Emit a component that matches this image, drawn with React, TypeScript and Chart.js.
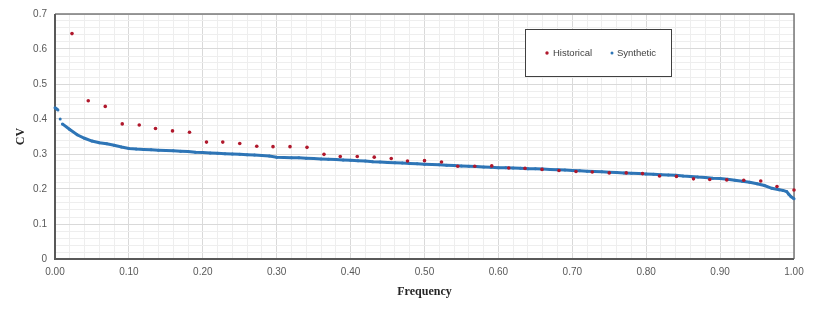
import React, { useEffect, useRef } from "react";
import { Chart, registerables } from "chart.js";

Chart.register(...registerables);

// Historical plotting positions (frequency) and CV values
const histFreq = [
  0.023, 0.045, 0.068, 0.091, 0.114, 0.136, 0.159, 0.182, 0.205, 0.227, 0.25,
  0.273, 0.295, 0.318, 0.341, 0.364, 0.386, 0.409, 0.432, 0.455, 0.477, 0.5,
  0.523, 0.545, 0.568, 0.591, 0.614, 0.636, 0.659, 0.682, 0.705, 0.727, 0.75,
  0.773, 0.795, 0.818, 0.841, 0.864, 0.886, 0.909, 0.932, 0.955, 0.977, 1.0,
];
const histCV = [
  0.644, 0.452, 0.436, 0.386, 0.383, 0.373, 0.366, 0.362, 0.334, 0.334, 0.33,
  0.322, 0.321, 0.321, 0.319, 0.299, 0.293, 0.293, 0.291, 0.287, 0.28, 0.281,
  0.277, 0.265, 0.265, 0.266, 0.26, 0.259, 0.256, 0.253, 0.25, 0.2485, 0.246,
  0.246, 0.244, 0.237, 0.236, 0.229, 0.227, 0.226, 0.225, 0.223, 0.207, 0.197,
];

// Synthetic series
const synthFreq = [
  0.0, 0.002, 0.004, 0.007, 0.01, 0.02, 0.03, 0.04, 0.05, 0.06, 0.07, 0.08,
  0.09, 0.1, 0.11, 0.12, 0.13, 0.14, 0.15, 0.16, 0.17, 0.18, 0.19, 0.2, 0.21,
  0.22, 0.23, 0.24, 0.25, 0.26, 0.27, 0.28, 0.29, 0.3, 0.31, 0.32, 0.33, 0.34,
  0.35, 0.36, 0.37, 0.38, 0.39, 0.4, 0.41, 0.42, 0.43, 0.44, 0.45, 0.46, 0.47,
  0.48, 0.49, 0.5, 0.51, 0.52, 0.53, 0.54, 0.55, 0.56, 0.57, 0.58, 0.59, 0.6,
  0.61, 0.62, 0.63, 0.64, 0.65, 0.66, 0.67, 0.68, 0.69, 0.7, 0.71, 0.72, 0.73,
  0.74, 0.75, 0.76, 0.77, 0.78, 0.79, 0.8, 0.81, 0.82, 0.83, 0.84, 0.85, 0.86,
  0.87, 0.88, 0.89, 0.9, 0.91, 0.92, 0.93, 0.94, 0.95, 0.96, 0.97, 0.98, 0.985,
  0.99, 0.993, 0.996, 1.0,
];
const synthCV = [
  0.432, 0.429, 0.426, 0.4, 0.386, 0.37, 0.355, 0.345, 0.337, 0.332, 0.329,
  0.325, 0.32, 0.316, 0.314, 0.313, 0.312, 0.311, 0.31, 0.309, 0.308, 0.307,
  0.305, 0.304, 0.303, 0.302, 0.301, 0.3, 0.299, 0.298, 0.297, 0.296, 0.294,
  0.291, 0.29, 0.289, 0.289, 0.288, 0.287, 0.286, 0.285, 0.284, 0.283, 0.282,
  0.281, 0.28, 0.278, 0.277, 0.276, 0.275, 0.274, 0.273, 0.272, 0.271, 0.27,
  0.269, 0.268, 0.267, 0.266, 0.265, 0.264, 0.263, 0.262, 0.261, 0.261, 0.26,
  0.259, 0.258, 0.258, 0.257, 0.256, 0.255, 0.254, 0.253, 0.252, 0.251, 0.25,
  0.249, 0.248, 0.247, 0.246, 0.245, 0.244, 0.243, 0.242, 0.241, 0.24, 0.239,
  0.237, 0.236, 0.234, 0.233, 0.231, 0.23, 0.228, 0.225, 0.222, 0.219, 0.215,
  0.21, 0.202, 0.198, 0.196, 0.193, 0.185, 0.178, 0.172,
];

const legendLabels = ["Historical", "Synthetic"];
const HIST_COLOR = "#b0182c";
const SYN_COLOR = "#2e75b6";

const isMajor = (v: number) => Math.round(v * 50) % 5 === 0;

export default function App() {
  const ref = useRef<HTMLCanvasElement | null>(null);

  useEffect(() => {
    document.body.style.margin = "0";
    const canvas = ref.current!;

    const framePlugin = {
      id: "frame",
      beforeDatasetsDraw(chart: any) {
        const { ctx, chartArea: a } = chart;
        ctx.save();
        ctx.strokeStyle = "#7a7a7a";
        ctx.lineWidth = 1.5;
        ctx.beginPath();
        ctx.moveTo(a.left, a.top);
        ctx.lineTo(a.right, a.top);
        ctx.lineTo(a.right, a.bottom);
        ctx.stroke();
        ctx.strokeStyle = "#595959";
        ctx.lineWidth = 2;
        ctx.beginPath();
        ctx.moveTo(a.left, a.top);
        ctx.lineTo(a.left, a.bottom);
        ctx.lineTo(a.right, a.bottom);
        ctx.stroke();
        ctx.restore();
      },
      afterDraw(chart: any) {
        const { ctx } = chart;
        ctx.save();
        const bx = 525.5, by = 29.5, bw = 146, bh = 47;
        ctx.fillStyle = "#ffffff";
        ctx.fillRect(bx, by, bw, bh);
        ctx.strokeStyle = "#404040";
        ctx.lineWidth = 1;
        ctx.strokeRect(bx, by, bw, bh);
        const cy = 53;
        ctx.font = "9.5px 'Liberation Sans', Arial, sans-serif";
        ctx.textBaseline = "middle";
        ctx.fillStyle = HIST_COLOR;
        ctx.beginPath();
        ctx.arc(547, cy, 1.7, 0, Math.PI * 2);
        ctx.fill();
        ctx.fillStyle = "#404040";
        ctx.fillText(legendLabels[0], 553, cy);
        ctx.fillStyle = SYN_COLOR;
        ctx.beginPath();
        ctx.arc(612, cy, 1.5, 0, Math.PI * 2);
        ctx.fill();
        ctx.fillStyle = "#404040";
        ctx.fillText(legendLabels[1], 617, cy);
        ctx.restore();
      },
    };

    const tickFont = { family: "'Liberation Sans', Arial, sans-serif", size: 10 };
    const titleFont = { family: "'Liberation Serif', 'Times New Roman', serif", size: 12, weight: "bold" as const };

    const chart = new Chart(canvas, {
      type: "scatter",
      data: {
        datasets: [
          {
            label: legendLabels[0],
            data: histFreq.map((x, i) => ({ x, y: histCV[i] })),
            pointRadius: 1.8,
            pointBorderWidth: 0,
            pointBackgroundColor: HIST_COLOR,
            backgroundColor: HIST_COLOR,
            showLine: false,
            clip: false,
          } as any,
          {
            label: legendLabels[1],
            data: synthFreq.map((x, i) => ({ x, y: synthCV[i] })),
            showLine: true,
            borderColor: SYN_COLOR,
            borderWidth: 3,
            pointRadius: 1.5,
            pointBorderWidth: 0,
            pointBackgroundColor: SYN_COLOR,
            backgroundColor: SYN_COLOR,
            clip: false,
            segment: {
              borderColor: (c: any) =>
                c.p0DataIndex === 2 || c.p0DataIndex === 3 ? "rgba(0,0,0,0)" : undefined,
            },
          } as any,
        ],
      },
      options: {
        responsive: false,
        animation: false,
        layout: { padding: { left: 0, right: 23, top: 13, bottom: 0 } },
        plugins: { legend: { display: false }, tooltip: { enabled: false } },
        scales: {
          x: {
            type: "linear",
            min: 0,
            max: 1,
            afterFit: (s: any) => {
              s.height = 53;
            },
            ticks: {
              stepSize: 0.02,
              autoSkip: false,
              maxRotation: 0,
              padding: 7,
              color: "#595959",
              font: tickFont,
              callback: (v: any) => (isMajor(Number(v)) ? Number(v).toFixed(2) : ""),
            },
            grid: {
              drawTicks: false,
              color: (c: any) => (c.tick && isMajor(c.tick.value) ? "#d9d9d9" : "#eeeeee"),
            },
            border: { display: false },
            title: {
              display: true,
              text: "Frequency",
              color: "#262626",
              font: titleFont,
              padding: { top: 0, bottom: 13 },
            },
          },
          y: {
            type: "linear",
            min: 0,
            max: 0.7,
            afterFit: (s: any) => {
              s.width = 55;
            },
            ticks: {
              stepSize: 0.02,
              autoSkip: false,
              padding: 8,
              color: "#595959",
              font: tickFont,
              callback: (v: any) => {
                const n = Number(v);
                if (!isMajor(n)) return "";
                return Math.abs(n) < 1e-9 ? "0" : n.toFixed(1);
              },
            },
            grid: {
              drawTicks: false,
              color: (c: any) => (c.tick && isMajor(c.tick.value) ? "#d9d9d9" : "#eeeeee"),
            },
            border: { display: false },
            title: {
              display: true,
              text: "CV",
              color: "#262626",
              font: titleFont,
              padding: { top: 14, bottom: 0 },
            },
          },
        },
      },
      plugins: [framePlugin],
    });

    return () => chart.destroy();
  }, []);

  return <canvas ref={ref} width={817} height={312} style={{ display: "block" }} />;
}
